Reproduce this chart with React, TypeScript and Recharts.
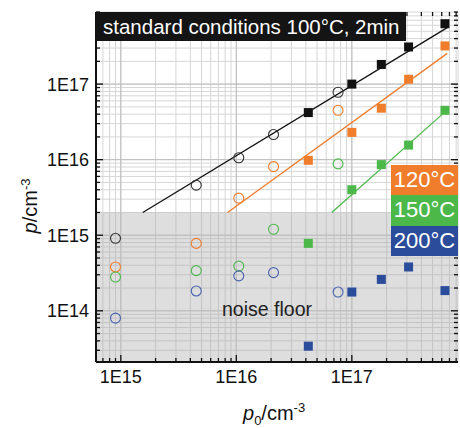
import React from "react";
import {
  ComposedChart,
  Scatter,
  XAxis,
  YAxis,
  CartesianGrid,
  ReferenceArea,
  ReferenceLine,
} from "recharts";

// p0 values (cm^-3) of the open and filled points
const p0Open = [9e14, 4.5e15, 1.05e16, 2.1e16, 7.6e16];
const p0Filled = [4.2e16, 1e17, 1.8e17, 3.1e17, 6.4e17];

// measured p (cm^-3)
const p100Open = [9.1e14, 4.6e15, 1.06e16, 2.15e16, 7.8e16];
const p100Filled = [4.2e16, 1e17, 1.82e17, 3.1e17, 6.3e17];
const p120Open = [3.8e14, 7.8e14, 3.1e15, 8.1e15, 4.5e16];
const p120Filled = [9.8e15, 2.3e16, 4.8e16, 1.16e17, 3.2e17];
const p150Open = [2.8e14, 3.4e14, 3.9e14, 1.2e15, 8.8e15];
const p150Filled = [7.8e14, 4.0e15, 8.6e15, 1.56e16, 4.5e16];
const p200Open = [8e13, 1.83e14, 2.9e14, 3.2e14, 1.77e14];
const p200Filled = [3.4e13, 1.77e14, 2.6e14, 3.8e14, 1.85e14];

// fit lines: [start, end]
const fit100X = [1.55e15, 6.7e17];
const fit100Y = [2e15, 5.6e17];
const fit120X = [8.4e15, 6.7e17];
const fit120Y = [2e15, 2.55e17];
const fit150X = [6.7e16, 6.2e17];
const fit150Y = [2e15, 4.1e16];

const noiseFloor = 2e15;
const xDomain = [6.1e14, 8.3e17];
const yDomain = [2.1e13, 9e17];

const xTicks = [
  7e14, 8e14, 9e14,
  1e15, 2e15, 3e15, 4e15, 5e15, 6e15, 7e15, 8e15, 9e15,
  1e16, 2e16, 3e16, 4e16, 5e16, 6e16, 7e16, 8e16, 9e16,
  1e17, 2e17, 3e17, 4e17, 5e17, 6e17, 7e17, 8e17,
];
const yTicks = [
  3e13, 4e13, 5e13, 6e13, 7e13, 8e13, 9e13,
  1e14, 2e14, 3e14, 4e14, 5e14, 6e14, 7e14, 8e14, 9e14,
  1e15, 2e15, 3e15, 4e15, 5e15, 6e15, 7e15, 8e15, 9e15,
  1e16, 2e16, 3e16, 4e16, 5e16, 6e16, 7e16, 8e16, 9e16,
  1e17, 2e17, 3e17, 4e17, 5e17, 6e17, 7e17, 8e17, 9e17,
];
const xMajor = [1e15, 1e16, 1e17];
const yMajor = [1e14, 1e15, 1e16, 1e17];

const legendItems = ["120°C", "150°C", "200°C"];

const BLACK = "#111111";
const ORANGE = "#ef7d2b";
const GREEN = "#4cb84a";
const BLUE = "#2b4b9b";
const FONT = "Arial, 'Liberation Sans', sans-serif";

const pts = (xs: number[], ys: number[]) => xs.map((x, i) => ({ x, y: ys[i] }));

const isMajor = (v: number) => {
  const l = Math.log10(v);
  return Math.abs(l - Math.round(l)) < 1e-6;
};
const fmt = (v: number) => `1E${Math.round(Math.log10(v))}`;

const BottomTick = ({ x, y, payload }: any) => {
  const major = isMajor(payload.value);
  return (
    <g>
      <line x1={x} x2={x} y1={y} y2={y - (major ? 7 : 4)} stroke={BLACK} strokeWidth={1.3} />
      {major && (
        <text x={x} y={y + 21} textAnchor="middle" fontSize={18} fontFamily={FONT} fill={BLACK}>
          {fmt(payload.value)}
        </text>
      )}
    </g>
  );
};

const TopTick = ({ x, y, payload }: any) => {
  const major = isMajor(payload.value);
  return <line x1={x} x2={x} y1={y} y2={y + (major ? 7 : 4)} stroke={BLACK} strokeWidth={1.3} />;
};

const LeftTick = ({ x, y, payload }: any) => {
  const major = isMajor(payload.value);
  return (
    <g>
      <line x1={x} x2={x + (major ? 7 : 4)} y1={y} y2={y} stroke={BLACK} strokeWidth={1.3} />
      {major && (
        <text x={x - 7} y={y + 6.5} textAnchor="end" fontSize={18} fontFamily={FONT} fill={BLACK}>
          {fmt(payload.value)}
        </text>
      )}
    </g>
  );
};

const RightTick = ({ x, y, payload }: any) => {
  const major = isMajor(payload.value);
  return <line x1={x} x2={x - (major ? 7 : 4)} y1={y} y2={y} stroke={BLACK} strokeWidth={1.3} />;
};

const openCircle = (color: string) => (p: any) =>
  <circle cx={p.cx} cy={p.cy} r={5} fill="none" stroke={color} strokeWidth={1.1} />;
const filledSquare = (color: string) => (p: any) =>
  <rect x={p.cx - 4.5} y={p.cy - 4.5} width={9} height={9} fill={color} />;
const noDot = () => <g />;

const series = [
  { open: p100Open, filled: p100Filled, color: BLACK, openColor: "#333333" },
  { open: p120Open, filled: p120Filled, color: ORANGE, openColor: ORANGE },
  { open: p150Open, filled: p150Filled, color: GREEN, openColor: GREEN },
  { open: p200Open, filled: p200Filled, color: BLUE, openColor: "#4a62ad" },
];
const fits = [
  { xs: fit100X, ys: fit100Y, color: BLACK },
  { xs: fit120X, ys: fit120Y, color: ORANGE },
  { xs: fit150X, ys: fit150Y, color: GREEN },
];
const legendColors = [ORANGE, GREEN, BLUE];

export default function App() {
  return (
    <div style={{ position: "absolute", left: 0, top: 0, width: 460, height: 428, background: "#fff", fontFamily: FONT }}>
      <ComposedChart
        width={460}
        height={428}
        margin={{ top: 11, right: 1, bottom: 65, left: 95 }}
      >
        <CartesianGrid stroke="#d6d6d6" strokeWidth={1} />
        <ReferenceArea
          x1={xDomain[0]}
          x2={xDomain[1]}
          y1={yDomain[0]}
          y2={noiseFloor}
          fill="#a8a8a8"
          fillOpacity={0.38}
          stroke="none"
          ifOverflow="hidden"
        />
        {xMajor.map((v) => (
          <ReferenceLine key={`xm${v}`} x={v} stroke="#bdbdbd" strokeWidth={1} />
        ))}
        {yMajor.map((v) => (
          <ReferenceLine key={`ym${v}`} y={v} stroke="#bdbdbd" strokeWidth={1} />
        ))}
        <XAxis
          dataKey="x"
          type="number"
          scale="log"
          domain={xDomain}
          allowDataOverflow
          ticks={xTicks}
          interval={0}
          height={1}
          tickSize={0}
          tickMargin={0}
          tick={<BottomTick />}
          tickLine={false}
          axisLine={{ stroke: BLACK, strokeWidth: 2 }}
        />
        <XAxis
          xAxisId="top"
          orientation="top"
          dataKey="x"
          type="number"
          scale="log"
          domain={xDomain}
          allowDataOverflow
          ticks={xTicks}
          interval={0}
          height={1}
          tickSize={0}
          tickMargin={0}
          tick={<TopTick />}
          tickLine={false}
          axisLine={false}
        />
        <YAxis
          dataKey="y"
          type="number"
          scale="log"
          domain={yDomain}
          allowDataOverflow
          ticks={yTicks}
          interval={0}
          width={1}
          tickSize={0}
          tickMargin={0}
          tick={<LeftTick />}
          tickLine={false}
          axisLine={{ stroke: BLACK, strokeWidth: 2 }}
        />
        <YAxis
          yAxisId="right"
          orientation="right"
          dataKey="y"
          type="number"
          scale="log"
          domain={yDomain}
          allowDataOverflow
          ticks={yTicks}
          interval={0}
          width={1}
          tickSize={0}
          tickMargin={0}
          tick={<RightTick />}
          tickLine={false}
          axisLine={false}
        />
        {fits.map((f, i) => (
          <Scatter
            key={`fit${i}`}
            data={pts(f.xs, f.ys)}
            line={{ stroke: f.color, strokeWidth: 1.3 }}
            shape={noDot}
            isAnimationActive={false}
          />
        ))}
        {series.map((s, i) => (
          <Scatter
            key={`open${i}`}
            data={pts(p0Open, s.open)}
            shape={openCircle(s.openColor)}
            isAnimationActive={false}
          />
        ))}
        {series.map((s, i) => (
          <Scatter
            key={`filled${i}`}
            data={pts(p0Filled, s.filled)}
            shape={filledSquare(s.color)}
            isAnimationActive={false}
          />
        ))}
      </ComposedChart>

      <div
        style={{
          position: "absolute",
          left: 96,
          top: 12,
          width: 303,
          height: 29,
          paddingLeft: 7,
          background: "#141414",
          color: "#fff",
          fontSize: 20.5,
          lineHeight: "29px",
          whiteSpace: "nowrap",
        }}
      >
        standard conditions 100°C, 2min
      </div>

      {legendItems.map((label, i) => (
        <div
          key={label}
          style={{
            position: "absolute",
            left: 391,
            top: 165 + i * 30.3,
            width: 67,
            height: 30.3,
            background: legendColors[i],
            color: "#fff",
            fontSize: 22,
            lineHeight: "30px",
            textAlign: "center",
          }}
        >
          {label}
        </div>
      ))}

      <div
        style={{
          position: "absolute",
          left: 222,
          top: 296,
          fontSize: 19.5,
          lineHeight: "26px",
          color: "#222",
          whiteSpace: "nowrap",
        }}
      >
        noise floor
      </div>

      <div
        style={{
          position: "absolute",
          left: 243,
          top: 395,
          fontSize: 20,
          lineHeight: "26px",
          color: BLACK,
          whiteSpace: "nowrap",
        }}
      >
        <i>p</i>
        <sub style={{ fontSize: 13 }}>0</sub>/cm<sup style={{ fontSize: 13 }}>-3</sup>
      </div>

      <div
        style={{
          position: "absolute",
          left: 28,
          top: 206,
          transform: "translate(-50%, -50%) rotate(-90deg)",
          fontSize: 20,
          lineHeight: "26px",
          color: BLACK,
          whiteSpace: "nowrap",
        }}
      >
        <i>p</i>/cm<sup style={{ fontSize: 13 }}>-3</sup>
      </div>
    </div>
  );
}
